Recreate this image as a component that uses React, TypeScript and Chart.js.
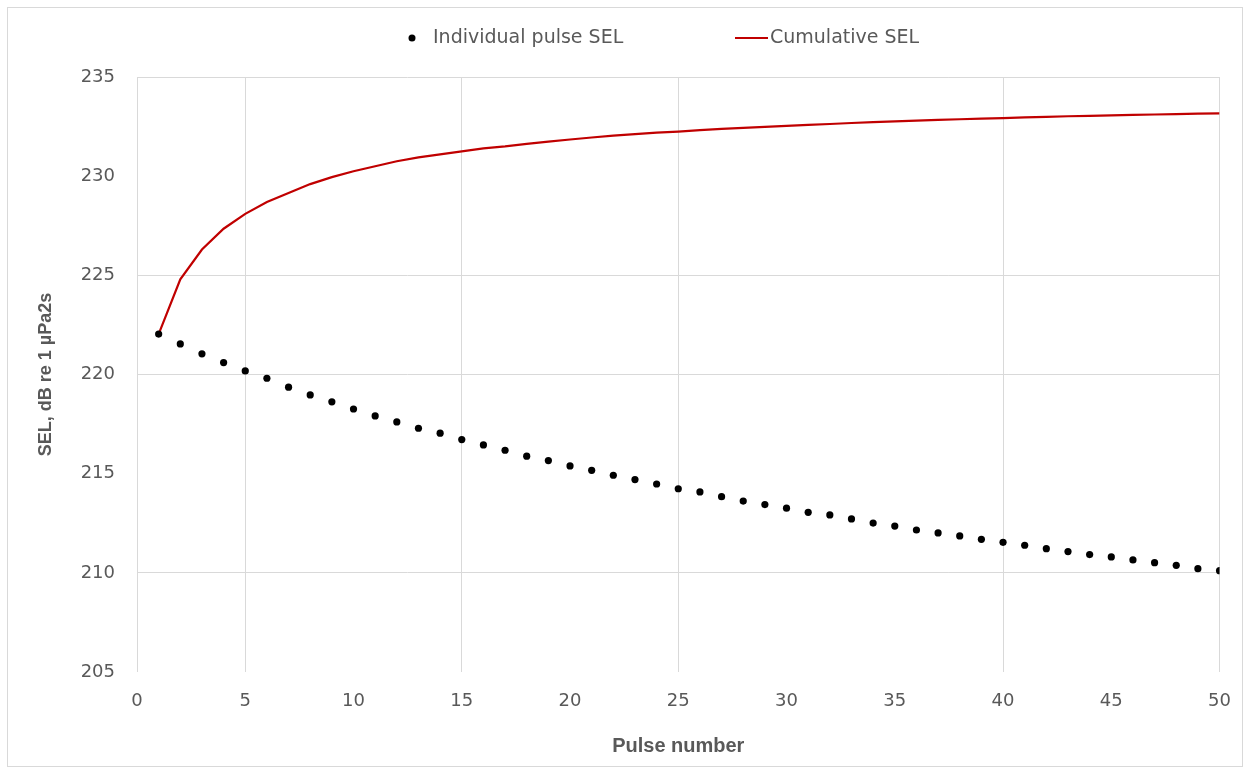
import React, { useEffect, useRef } from "react";
import { Chart, registerables } from "chart.js";

Chart.register(...registerables);

// ---- Data ----
const pulseNumbers = [
  1, 2, 3, 4, 5, 6, 7, 8, 9, 10,
  11, 12, 13, 14, 15, 16, 17, 18, 19, 20,
  21, 22, 23, 24, 25, 26, 27, 28, 29, 30,
  31, 32, 33, 34, 35, 36, 37, 38, 39, 40,
  41, 42, 43, 44, 45, 46, 47, 48, 49, 50,
];

const individualSEL = [
  222.04, 221.54, 221.04, 220.6, 220.18, 219.81, 219.36, 218.97, 218.62, 218.26,
  217.91, 217.61, 217.29, 217.04, 216.72, 216.45, 216.18, 215.88, 215.66, 215.39,
  215.17, 214.92, 214.7, 214.48, 214.24, 214.08, 213.84, 213.62, 213.44, 213.26,
  213.05, 212.92, 212.72, 212.51, 212.36, 212.16, 212.01, 211.86, 211.69, 211.54,
  211.39, 211.22, 211.07, 210.92, 210.8, 210.65, 210.51, 210.38, 210.21, 210.11,
];

const cumulativeSEL = [
  222.04, 224.8, 226.3, 227.35, 228.1, 228.7, 229.15, 229.6, 229.95, 230.25,
  230.5, 230.75, 230.95, 231.1, 231.25, 231.4, 231.5, 231.63, 231.74, 231.85,
  231.95, 232.04, 232.12, 232.2, 232.25, 232.32, 232.38, 232.43, 232.49, 232.54,
  232.59, 232.63, 232.68, 232.72, 232.76, 232.8, 232.84, 232.87, 232.9, 232.93,
  232.96, 232.99, 233.02, 233.04, 233.07, 233.09, 233.11, 233.13, 233.15, 233.17,
];

const seriesLabels = ["Individual pulse SEL", "Cumulative SEL"];
const xAxisTitle = "Pulse number";
const yAxisTitle = "SEL, dB re 1 µPa2s";
const xMin = 0;
const xMax = 50;
const xStep = 5;
const yMin = 205;
const yMax = 235;
const yStep = 5;
// grid lines that are visible in the reference
const xGridShown = [0, 5, 15, 25, 40, 50];
const yGridShown = [210, 220, 225, 235];

// ---- Styles ----
const GRID = "#d9d9d9";
const TEXT = "#595959";
const RED = "#c00000";
const DOT = "#000000";
const TICK_FONT = { family: '"DejaVu Sans", sans-serif', size: 18 };
const TITLE_FAMILY = '"Liberation Sans", Arial, sans-serif';

const legendAndFramePlugin = {
  id: "legendAndFrame",
  afterDraw(chart: any) {
    const ctx = chart.ctx as CanvasRenderingContext2D;
    const ds = chart.data.datasets;
    ctx.save();
    // outer frame
    ctx.strokeStyle = GRID;
    ctx.lineWidth = 1;
    ctx.strokeRect(7.5, 7.5, 1235, 759);
    // legend
    const y = 38;
    ctx.font = '19px "DejaVu Sans", sans-serif';
    ctx.textBaseline = "middle";
    ctx.textAlign = "left";
    ctx.beginPath();
    ctx.arc(412, y, 3.5, 0, Math.PI * 2);
    ctx.fillStyle = ds[0].pointBackgroundColor;
    ctx.fill();
    ctx.fillStyle = TEXT;
    ctx.fillText(ds[0].label, 433, y);
    ctx.beginPath();
    ctx.strokeStyle = ds[1].borderColor;
    ctx.lineWidth = ds[1].borderWidth;
    ctx.moveTo(735, y);
    ctx.lineTo(768, y);
    ctx.stroke();
    ctx.fillStyle = TEXT;
    ctx.fillText(ds[1].label, 770, y);
    ctx.restore();
  },
};

export default function App() {
  const canvasRef = useRef<HTMLCanvasElement | null>(null);

  useEffect(() => {
    const canvas = canvasRef.current;
    if (!canvas) return;
    const chart = new Chart(canvas, {
      type: "scatter",
      data: {
        datasets: [
          {
            label: seriesLabels[0],
            data: pulseNumbers.map((x, i) => ({ x, y: individualSEL[i] })),
            showLine: false,
            pointRadius: 3.6,
            pointBorderWidth: 0,
            pointBackgroundColor: DOT,
            backgroundColor: DOT,
            borderColor: DOT,
          },
          {
            label: seriesLabels[1],
            data: pulseNumbers.map((x, i) => ({ x, y: cumulativeSEL[i] })),
            showLine: true,
            borderColor: RED,
            backgroundColor: RED,
            borderWidth: 2.2,
            pointRadius: 0,
            tension: 0,
            fill: false,
          },
        ],
      } as any,
      options: {
        responsive: false,
        animation: false,
        devicePixelRatio: 1,
        layout: { padding: { top: 77, right: 30, left: 0, bottom: 0 } },
        plugins: {
          legend: { display: false },
          tooltip: { enabled: false },
        },
        scales: {
          x: {
            type: "linear",
            min: xMin,
            max: xMax,
            ticks: { stepSize: xStep, color: TEXT, font: TICK_FONT, padding: 19 },
            grid: {
              color: (c: any) => (xGridShown.includes(c.tick?.value) ? GRID : "rgba(0,0,0,0)"),
              lineWidth: 1,
              drawTicks: false,
            },
            border: { display: false },
            title: {
              display: true,
              text: xAxisTitle,
              color: TEXT,
              font: { family: TITLE_FAMILY, size: 20, weight: "bold" },
              padding: { top: 0, bottom: 16 },
            },
            afterFit(scale: any) {
              scale.height = 102;
            },
          },
          y: {
            type: "linear",
            min: yMin,
            max: yMax,
            ticks: { stepSize: yStep, color: TEXT, font: TICK_FONT, padding: 22 },
            grid: {
              color: (c: any) => (yGridShown.includes(c.tick?.value) ? GRID : "rgba(0,0,0,0)"),
              lineWidth: 1,
              drawTicks: false,
            },
            border: { display: false },
            title: {
              display: true,
              text: yAxisTitle,
              color: TEXT,
              font: { family: TITLE_FAMILY, size: 18, weight: "bold" },
              padding: { top: 35, bottom: 0 },
            },
            afterFit(scale: any) {
              scale.width = 137;
            },
          },
        },
      } as any,
      plugins: [legendAndFramePlugin],
    });
    return () => chart.destroy();
  }, []);

  return (
    <div style={{ position: "absolute", left: 0, top: 0, width: 1250, height: 774, background: "#fff" }}>
      <canvas ref={canvasRef} width={1250} height={774} style={{ display: "block" }} />
    </div>
  );
}
